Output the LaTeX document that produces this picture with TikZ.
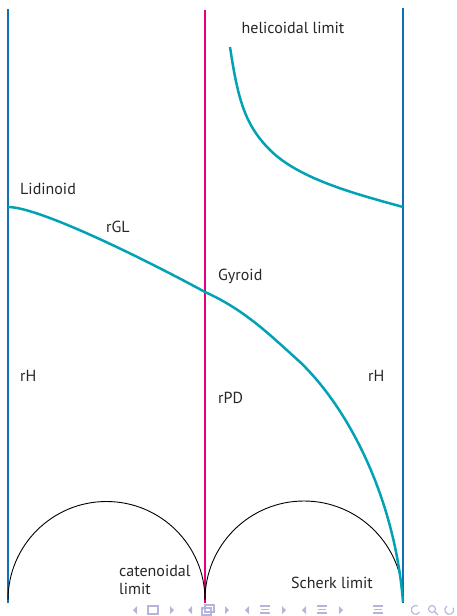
\documentclass[tikz,border=0pt]{standalone}
\usepackage{fontspec}
\setmainfont{PT Sans}
\usetikzlibrary{positioning}
\definecolor{famblue}{HTML}{1070B6}
\definecolor{fammag}{HTML}{E5007D}
\definecolor{famteal}{HTML}{00A2B3}
\definecolor{navgray}{HTML}{B4B4DC}
\tikzset{
  bluefam/.style={draw=famblue,line width=2.5pt},
  magfam/.style={draw=fammag,line width=2.5pt},
  tealfam/.style={draw=famteal,line width=2.5pt},
  limarc/.style={draw=black,line width=0.9pt},
  lbl/.style={font=\fontsize{16}{18.5}\selectfont,text=black!85,inner sep=0pt},
  navsym/.style={draw=navgray,line width=1.1pt},
  navtri/.style={fill=navgray}
}
\begin{document}
\begin{tikzpicture}[x=1pt,y=-1pt]
    \path[use as bounding box] (0,0) rectangle (456,616);

    % the three families as vertical lines
    \coordinate (lt) at (8,9);    \coordinate (lb) at (8,603);
    \coordinate (mt) at (205,10); \coordinate (mb) at (205,603);
    \coordinate (rt) at (403,8);  \coordinate (rb) at (403,603);
    \draw[bluefam] (lt) -- (lb);
    \draw[magfam] (mt) -- (mb);
    \draw[bluefam] (rt) -- (rb);

    % limits at the bottom
    \coordinate (cat) at (8,600);
    \coordinate (sch) at (205,600);
    \draw[limarc] (cat) arc[start angle=180,end angle=360,radius=98.5];
    \draw[limarc] (sch) arc[start angle=180,end angle=360,radius=99];

    % curves of the rGL and rH branches
    \coordinate (lid) at (8,207);
    \coordinate (gyr) at (205,292);
    \coordinate (bend) at (300,362);
    \coordinate (sk) at (403,602);
    \draw[tealfam] (lid) .. controls (40,207) and (150,262) .. (gyr)
      .. controls (245,310) and (270,335) .. (bend)
      .. controls (350,410) and (395,500) .. (sk);

    \coordinate (hel) at (230,47);
    \coordinate (hmid) at (270,150);
    \coordinate (hend) at (403,207);
    \draw[tealfam] (hel) .. controls (238,100) and (245,125) .. (hmid)
      .. controls (300,180) and (360,195) .. (hend);

    % labels
    \node[lbl] (helL) at (293,28) {helicoidal limit};
    \node[lbl,anchor=west] (lidL) at (20,189) {Lidinoid};
    \node[lbl] (rglL) at (118,227) {rGL};
    \node[lbl,anchor=west] (gyrL) at (218,276) {Gyroid};
    \node[lbl,anchor=west] (rhL) at (20,376) {rH};
    \node[lbl,anchor=west] (rpdL) at (218,398) {rPD};
    \node[lbl,anchor=west] (rhR) at (368,376) {rH};
    \node[lbl,anchor=west,align=left] (catL) at (119,580) {catenoidal\\limit};
    \node[lbl] (schL) at (332,583) {Scherk limit};

    % navigation symbols
    \foreach \c in {153,208,265,322}{
      \fill[navtri] (\c-16,606) -- (\c-20,610) -- (\c-16,614) -- cycle;
      \fill[navtri] (\c+17,606) -- (\c+21,610) -- (\c+17,614) -- cycle;
    }
    \draw[navsym] (148,606) rectangle (158,614);
    \draw[navsym] (202,608) rectangle (211,615);
    \draw[navsym] (205,605) rectangle (214,612);
    \foreach \c in {265,322,378}{
      \draw[navsym] (\c-5,606) -- (\c+5,606);
      \draw[navsym] (\c-4,609.5) -- (\c+4,609.5);
      \draw[navsym] (\c-5,613) -- (\c+5,613);
    }
    \draw[navsym] (418,606) arc[start angle=-60,end angle=-330,radius=4.5];
    \draw[navsym] (432,609) circle[radius=3.5];
    \draw[navsym] (434.5,611.5) -- (438,615);
    \draw[navsym] (447,606) arc[start angle=240,end angle=-30,radius=4.5];
  \end{tikzpicture}
\end{document}
